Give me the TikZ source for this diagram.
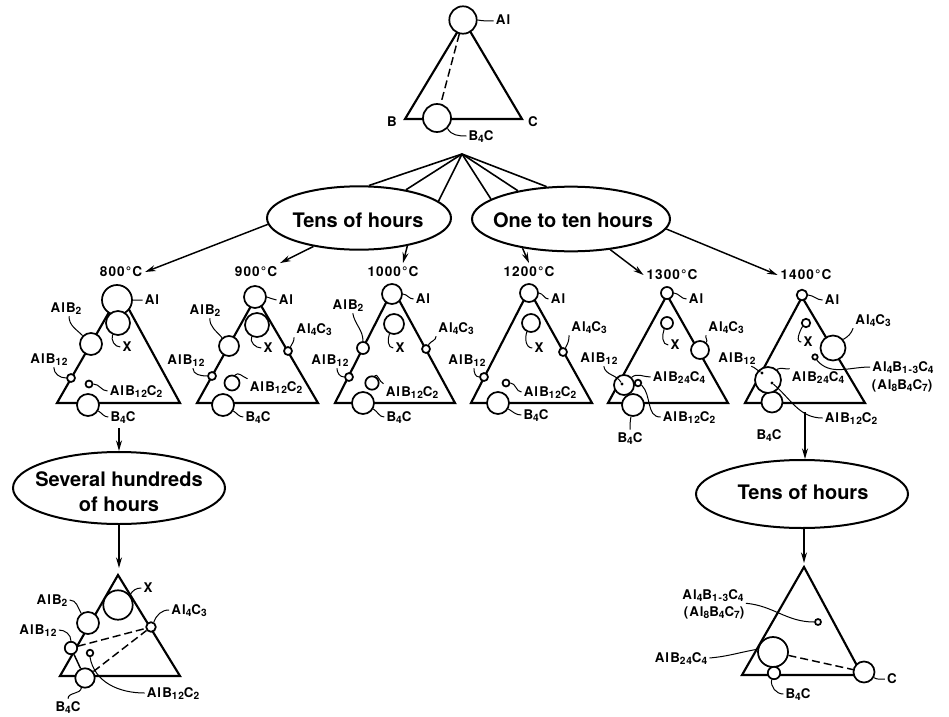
\documentclass[tikz,border=0pt]{standalone}
\usepackage{fontspec}
\setmainfont{TeX Gyre Heros}
\newfontfamily\labfam[LetterSpace=8]{TeX Gyre Heros}
\usetikzlibrary{shapes.geometric,arrows.meta,calc}
\newcommand\sbx[1]{\raisebox{-0.4ex}{\fontsize{7.6}{7.6}\selectfont #1}}
\tikzset{
  tri/.style={line width=1.6pt},
  ph/.style={circle,draw,fill=white,line width=1.3pt,inner sep=0pt,minimum size=#1*1.5pt},
  dotm/.style={circle,fill=black,inner sep=0pt,minimum size=2.4pt},
  lab/.style={font=\labfam\bfseries\fontsize{10}{12}\selectfont,inner sep=1.5pt,text height=7.5pt,text depth=1.5pt},
  temp/.style={font=\labfam\bfseries\fontsize{10.2}{12}\selectfont,inner sep=2pt,text height=7.5pt,text depth=1.5pt},
  ld/.style={line width=0.75pt},
  tie/.style={line width=1.1pt,dash pattern=on 6pt off 3pt},
  thin tie/.style={line width=1.1pt},
  arr/.style={line width=1.1pt,-{Stealth[length=8pt,width=4.5pt]}},
  hubl/.style={line width=1.2pt},
  ell/.style={ellipse,draw,line width=1.5pt,inner sep=0pt},
  etext/.style={font=\bfseries\fontsize{15}{18.75}\selectfont,align=center},
}
\begin{document}
\begin{tikzpicture}[x=0.75pt,y=-0.75pt]
\useasboundingbox (0,0) rectangle (949,717);

% ---------- top triangle ----------
\draw[tri] (464,21) -- (405,119) -- (522,119) -- cycle;
\node[ph=13.7] (t0Al) at (463,20) {};
\node[ph=14] (t0B4) at (437,118) {};
\draw[tie] (t0Al) -- (t0B4);
\node[lab] (l0Al) at (503,21) {Al};
\node[lab] (l0B) at (392,123) {B};
\node[lab] (l0C) at (533,123) {C};
\node[lab] (l0B4) at (481,136) {B\sbx{4}C};
\draw[ld] (t0Al.east) to[out=-10,in=180] (l0Al.west);
\draw[ld] (t0B4.-45) to[out=-60,in=180] (l0B4.west);

% ---------- hub and ellipses ----------
\coordinate (hub) at (462,154);
\node[ell,minimum width=138pt,minimum height=47.5pt] (eT) at (359,218) {};
\node[etext] at (358,220) {Tens of hours};
\node[ell,minimum width=148.5pt,minimum height=48.5pt] (eO) at (571,219) {};
\node[etext] at (573,220) {One to ten hours};
\draw[hubl] (hub) -- (eT.73);
\draw[hubl] (hub) -- (eT.31);
\draw[hubl] (hub) -- (eT.12);
\draw[hubl] (hub) -- (eO.166);
\draw[hubl] (hub) -- (eO.152);
\draw[hubl] (hub) -- (eO.127);

% ---------- temperatures ----------
\node[temp] (T8) at (121,272) {800°C};
\node[temp] (T9) at (256,272) {900°C};
\node[temp] (T10) at (393,272) {1000°C};
\node[temp] (T12) at (529,272) {1200°C};
\node[temp] (T13) at (672,275) {1300°C};
\node[temp] (T14) at (806,275) {1400°C};
\draw[arr] (eT.184) -- (T8.east);
\draw[arr] (eT.212) -- (T9.north east);
\draw[arr] (eT.-30) -- ($(T10.north)+(10,0)$);
\draw[arr] (eO.211) -- (T12.north);
\draw[arr] (eO.-38) -- (T13.west);
\draw[arr] (eO.-6) -- (T14.west);

% ---------- 800 C ----------
\draw[tri] (120,293) -- (57,403) -- (180,403) -- cycle;
\node[ph=15] (aAl) at (117,300) {};
\node[ph=12] (aX) at (118,323) {};
\node[ph=11] (aB2) at (91,344) {};
\node[ph=4] (aB12) at (71,378) {};
\node[ph=3.5] (aBC) at (89,384) {};
\node[ph=11] (aB4) at (88,405) {};
\node[lab] (laAl) at (152,300) {Al};
\node[lab] (laX) at (127,347) {X};
\node[lab] (laB2) at (66,308) {AlB\sbx{2}};
\node[lab] (laB12) at (49,359) {AlB\sbx{12}};
\node[lab] (laBC) at (136,391) {AlB\sbx{12}C\sbx{2}};
\node[lab] (laB4) at (123,417) {B\sbx{4}C};
\draw[ld] (aAl.east) to[out=-5,in=180] (laAl.west);
\draw[ld] (aX.-115) to[out=-110,in=180] (laX.west);
\draw[ld] (laB2.-70) to[out=-90,in=135] (aB2.135);
\draw[ld] (laB12.-60) to[out=-90,in=180] (aB12.west);
\draw[ld] (aBC.east) to[out=0,in=180] (laBC.west);
\draw[ld] (aB4.-30) to[out=-30,in=180] (laB4.west);

% ---------- 900 C ----------
\draw[tri] (256,297) -- (197,403) -- (318,403) -- cycle;
\node[ph=11] (bAl) at (255,297) {};
\node[ph=12] (bX) at (257,325) {};
\node[ph=10] (bB2) at (229,346) {};
\node[ph=4] (bB12) at (212,376) {};
\node[ph=4] (bC3) at (288,351) {};
\node[ph=7.5] (bBC) at (232,383) {};
\node[ph=11] (bB4) at (223,405) {};
\node[lab] (lbAl) at (286,300) {Al};
\node[lab] (lbX) at (268,348) {X};
\node[lab] (lbB2) at (205,310) {AlB\sbx{2}};
\node[lab] (lbB12) at (186,360) {AlB\sbx{12}};
\node[lab] (lbC3) at (314,329) {Al\sbx{4}C\sbx{3}};
\node[lab] (lbBC) at (276,387) {AlB\sbx{12}C\sbx{2}};
\node[lab] (lbB4) at (258,417) {B\sbx{4}C};
\draw[ld] (bAl.east) to[out=-5,in=180] (lbAl.west);
\draw[ld] (bX.-115) to[out=-110,in=180] (lbX.west);
\draw[ld] (lbB2.-60) to[out=-90,in=130] (bB2.130);
\draw[ld] (lbB12.-50) to[out=-90,in=180] (bB12.west);
\draw[ld] (bC3.60) to[out=60,in=-90] (lbC3.south west);
\draw[ld] (bBC.70) to[out=50,in=160] (lbBC.north west);
\draw[ld] (bB4.-30) to[out=-30,in=180] (lbB4.west);

% ---------- 1000 C ----------
\draw[tri] (393,289) -- (335,403) -- (455,403) -- cycle;
\node[ph=10] (cAl) at (392,294) {};
\node[ph=10] (cX) at (394,324) {};
\node[ph=6] (cB2) at (363,348) {};
\node[ph=4] (cB12) at (349,377) {};
\node[ph=4] (cC3) at (426,349) {};
\node[ph=6.7] (cBC) at (372,383) {};
\node[ph=11] (cB4) at (363,403) {};
\node[lab] (lcAl) at (423,299) {Al};
\node[lab] (lcX) at (400,348) {X};
\node[lab] (lcB2) at (348,305) {AlB\sbx{2}};
\node[lab] (lcB12) at (330,360) {AlB\sbx{12}};
\node[lab] (lcC3) at (456,328) {Al\sbx{4}C\sbx{3}};
\node[lab] (lcBC) at (412,392) {AlB\sbx{12}C\sbx{2}};
\node[lab] (lcB4) at (399,417) {B\sbx{4}C};
\draw[ld] (cAl.east) to[out=-5,in=180] (lcAl.west);
\draw[ld] (cX.-115) to[out=-110,in=180] (lcX.west);
\draw[ld] (lcB2.-60) to[out=-80,in=90] (cB2.north);
\draw[ld] (lcB12.-50) to[out=-90,in=180] (cB12.west);
\draw[ld] (cC3.60) to[out=60,in=-90] (lcC3.south west);
\draw[ld] (cBC.70) to[out=50,in=160] (lcBC.north west);
\draw[ld] (cB4.-30) to[out=-30,in=180] (lcB4.west);

% ---------- 1200 C ----------
\draw[tri] (529,290) -- (471,403) -- (592,403) -- cycle;
\node[ph=9] (dAl) at (529,293) {};
\node[ph=9] (dX) at (531,323) {};
\node[ph=4] (dB12) at (484,377) {};
\node[ph=4] (dC3) at (563,352) {};
\node[ph=3.5] (dBC) at (506,383) {};
\node[ph=11] (dB4) at (498,403) {};
\node[lab] (ldAl) at (558,299) {Al};
\node[lab] (ldX) at (539,348) {X};
\node[lab] (ldB12) at (467,360) {AlB\sbx{12}};
\node[lab] (ldC3) at (589,327) {Al\sbx{4}C\sbx{3}};
\node[lab] (ldBC) at (550,392) {AlB\sbx{12}C\sbx{2}};
\node[lab] (ldB4) at (536,415) {B\sbx{4}C};
\draw[ld] (dAl.east) to[out=-5,in=180] (ldAl.west);
\draw[ld] (dX.-115) to[out=-110,in=180] (ldX.west);
\draw[ld] (ldB12.-50) to[out=-90,in=180] (dB12.west);
\draw[ld] (dC3.60) to[out=60,in=-90] (ldC3.south west);
\draw[ld] (dBC.east) to[out=0,in=180] (ldBC.west);
\draw[ld] (dB4.-30) to[out=-30,in=180] (ldB4.west);

% ---------- 1300 C ----------
\draw[tri] (667,295) -- (608,403) -- (728,403) -- cycle;
\node[ph=6] (eAl) at (667,293) {};
\node[ph=6] (eX) at (667,323) {};
\node[ph=9] (eC3) at (700,350) {};
\node[ph=11] (eB4) at (633,405) {};
\node[ph=10] (eBig) at (624,385) {};
\node[ph=3.3] (eSm) at (638,383) {};
\node[dotm] (eDot) at (622,384) {};
\node[lab] (leAl) at (696,299) {Al};
\node[lab] (leX) at (675,345) {X};
\node[lab] (leC3) at (726,327) {Al\sbx{4}C\sbx{3}};
\node[lab] (leB12) at (599,358) {AlB\sbx{12}};
\node[lab] (leB24) at (679,377) {AlB\sbx{24}C\sbx{4}};
\node[lab] (leBC) at (689,417) {AlB\sbx{12}C\sbx{2}};
\node[lab] (leB4) at (630,438) {B\sbx{4}C};
\draw[ld] (eAl.east) to[out=-5,in=180] (leAl.west);
\draw[ld] (eX.-115) to[out=-110,in=180] (leX.west);
\draw[ld] (eC3.50) to[out=50,in=-120] (leC3.south west);
\draw[ld] (leB12.-60) to[out=-80,in=120] (eDot);
\draw[ld] (leB24.west) to[out=180,in=40] (eBig.45);
\draw[ld] (leBC.west) to[out=180,in=-45] (eSm.-30);
\draw[ld] (eB4.-100) to[out=-100,in=90] (leB4.north);

% ---------- 1400 C ----------
\draw[tri] (802,297) -- (745,403) -- (865,403) -- cycle;
\node[ph=5.3] (fAl) at (802,295) {};
\node[ph=4.2] (fX) at (806,323) {};
\node[ph=12.5] (fC3) at (833,348) {};
\node[ph=2.7] (fSm) at (815,357) {};
\node[ph=10.5] (fB4) at (772,402) {};
\node[ph=13] (fBig) at (768,380) {};
\node[dotm] (fD1) at (762,373) {};
\node[dotm] (fD2) at (772,383) {};
\node[lab] (lfAl) at (832,300) {Al};
\node[lab] (lfX) at (808,342) {X};
\node[lab] (lfC3) at (873,320) {Al\sbx{4}C\sbx{3}};
\node[lab] (lfB12) at (737,358) {AlB\sbx{12}};
\node[lab] (lfB24) at (818,377) {AlB\sbx{24}C\sbx{4}};
\node[lab] (lfA) at (903,367) {Al\sbx{4}B\sbx{1-3}C\sbx{4}};
\node[lab] (lfA2) at (902,385) {(Al\sbx{8}B\sbx{4}C\sbx{7})};
\node[lab] (lfBC) at (851,418) {AlB\sbx{12}C\sbx{2}};
\node[lab] (lfB4) at (769,435) {B\sbx{4}C};
\draw[ld] (fAl.east) to[out=-5,in=180] (lfAl.west);
\draw[ld] (fX.-135) to[out=-120,in=180] (lfX.west);
\draw[ld] (fC3.40) to[out=30,in=-110] (lfC3.south west);
\draw[ld] (fSm.-60) to[out=-50,in=180] (lfA.west);
\draw[ld] (lfB12.-30) to[out=-20,in=150] (fD1);
\draw[ld] (fBig.50) to[out=30,in=-170] (lfB24.north west);
\draw[ld] (fD2) to[out=-40,in=180] (lfBC.west);

% ---------- lower branch left ----------
\coordinate (s8) at (119,428);
\node[ell,minimum width=159pt,minimum height=54pt] (eS) at (119,488) {};
\node[etext] at (119,492) {Several hundreds\\of hours};
\coordinate (gTop) at (119,568);
\draw[arr] (s8) -- (s8 |- eS.north);
\draw[arr] (gTop |- eS.south) -- (gTop);

\draw[tri] (118,575) -- (60,676) -- (180,676) -- cycle;
\node[ph=14.7] (gX) at (118,605) {};
\node[ph=11] (gB2) at (88,623) {};
\node[ph=4.8] (gC3) at (151,627) {};
\node[ph=6.2] (gB12) at (71,648) {};
\node[ph=3.3] (gBC) at (90,653) {};
\node[ph=9.7] (gB4) at (85,678) {};
\draw[tie] (gB12) -- (gC3);
\draw[tie] (gB4) -- (gC3);
\draw[thin tie] (gB12) -- (gB4);
\node[lab] (lgX) at (148,588) {X};
\node[lab] (lgB2) at (52,600) {AlB\sbx{2}};
\node[lab] (lgC3) at (189,610) {Al\sbx{4}C\sbx{3}};
\node[lab] (lgB12) at (38,630) {AlB\sbx{12}};
\node[lab] (lgBC) at (173,693) {AlB\sbx{12}C\sbx{2}};
\node[lab] (lgB4) at (68,707) {B\sbx{4}C};
\draw[ld] (gX.40) to[out=60,in=180] (lgX.west);
\draw[ld] (lgB2.east) to[out=0,in=120] (gB2.125);
\draw[ld] (gC3.60) to[out=70,in=180] (lgC3.west);
\draw[ld] (lgB12.east) to[out=0,in=90] (gB12.north);
\draw[ld] (gBC.south) to[out=-80,in=180] (lgBC.west);
\draw[ld] (gB4.-110) to[out=-100,in=90] (lgB4.north);

% ---------- lower branch right ----------
\coordinate (s14) at (805,412);
\node[ell,minimum width=159pt,minimum height=51pt] (eT2) at (802,494) {};
\node[etext] at (803,492) {Tens of hours};
\coordinate (hTop) at (804,563);
\draw[arr] (s14) -- (s14 |- eT2.north);
\draw[arr] (hTop |- eT2.south) -- (hTop);

\draw[tri] (804,567) -- (742,675) -- (862,675) -- cycle;
\node[ph=3] (hA) at (818,622) {};
\node[ph=15] (hBig) at (773,652) {};
\node[ph=6.2] (hB4) at (774,673) {};
\node[ph=10.5] (hC) at (864,672) {};
\draw[tie] (hBig) -- (hC);
\node[lab] (lhA) at (713,595) {Al\sbx{4}B\sbx{1-3}C\sbx{4}};
\node[lab] (lhA2) at (714,612) {(Al\sbx{8}B\sbx{4}C\sbx{7})};
\node[lab] (lhB24) at (681,658) {AlB\sbx{24}C\sbx{4}};
\node[lab] (lhB4) at (798,694) {B\sbx{4}C};
\node[lab] (lhC) at (892,679) {C};
\draw[ld] (lhA.south east) to[out=-5,in=180] (hA.west);
\draw[ld] (lhB24.east) to[out=5,in=190] (hBig.170);
\draw[ld] (hB4.-110) to[out=-100,in=180] (lhB4.west);
\draw[ld] (hC.-30) to[out=-30,in=180] (lhC.west);
\end{tikzpicture}
\end{document}
